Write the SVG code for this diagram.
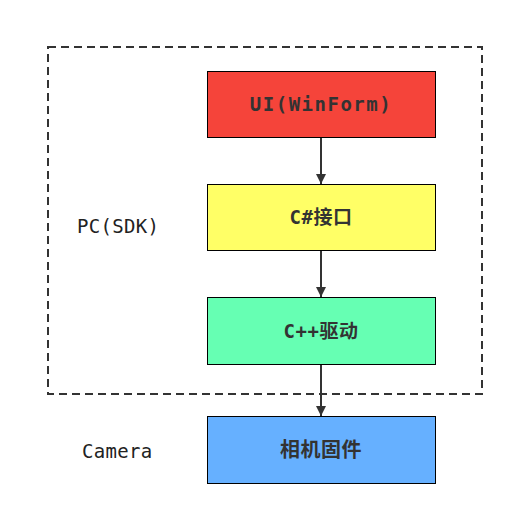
<svg xmlns="http://www.w3.org/2000/svg" width="514" height="516" viewBox="0 0 514 516">
<style>
.box{stroke:#000;stroke-width:1}
.lbl{font-family:"DejaVu Sans Mono","Noto Sans CJK SC",monospace;font-size:19px;font-weight:bold;fill:#333;text-anchor:middle;dominant-baseline:central;letter-spacing:0.5px}
.side{font-family:"DejaVu Sans Mono","Noto Sans CJK SC",monospace;font-size:19px;fill:#222;dominant-baseline:central;letter-spacing:0.3px}
.conn{stroke:#333;stroke-width:2;fill:none}
</style>
<defs>
<marker id="arr" viewBox="0 0 10 10" refX="10" refY="5" markerWidth="13" markerHeight="10" orient="auto" markerUnits="userSpaceOnUse">
<path d="M0,0 L10,5 L0,10 Z" fill="#333"/>
</marker>
</defs>
<rect width="514" height="516" fill="#fff"/>
<g id="pc-group">
<rect x="48" y="47" width="434" height="347" fill="none" stroke="#333" stroke-width="2" stroke-dasharray="8,5"/>
<text class="side" x="77" y="226">PC(SDK)</text>
</g>
<g id="camera-label"><text class="side" x="82" y="451">Camera</text></g>
<g id="ui"><rect class="box" x="207.5" y="71.5" width="228" height="66" fill="#f5443a"/><text class="lbl" x="321" y="104" style="letter-spacing:1.5px">UI(WinForm)</text></g>
<g id="csharp"><rect class="box" x="207.5" y="184.5" width="228" height="66" fill="#ffff66"/><text class="lbl" x="321" y="217">C#接口</text></g>
<g id="cpp"><rect class="box" x="207.5" y="297.5" width="228" height="67" fill="#66ffb3"/><text class="lbl" x="321" y="331">C++驱动</text></g>
<g id="firmware"><rect class="box" x="207.5" y="416.5" width="228" height="67" fill="#66b0ff"/><text class="lbl" x="321" y="450" style="font-size:20px">相机固件</text></g>
<g id="connectors">
<line class="conn" x1="321" y1="138" x2="321" y2="184" marker-end="url(#arr)"/>
<line class="conn" x1="321" y1="251" x2="321" y2="297" marker-end="url(#arr)"/>
<line class="conn" x1="321" y1="365" x2="321" y2="416" marker-end="url(#arr)"/>
</g>
</svg>
